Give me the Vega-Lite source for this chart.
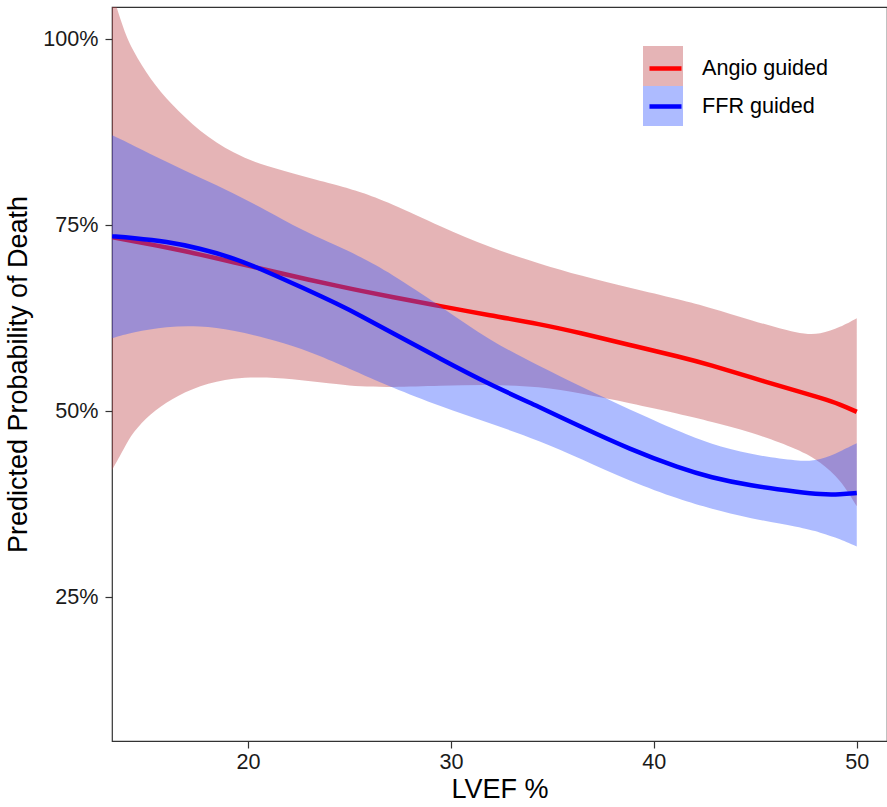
{
  "$schema": "https://vega.github.io/schema/vega-lite/v6.json",
  "width": 775,
  "height": 734,
  "autosize": {"type": "none"},
  "padding": {"left": 112, "top": 7, "right": 0, "bottom": 66},
  "background": "white",
  "config": {
    "font": "Liberation Sans",
    "view": {"stroke": "#333333", "strokeWidth": 1.2},
    "axis": {
      "grid": false,
      "domain": false,
      "tickColor": "#333333",
      "tickSize": 7,
      "tickWidth": 1.2,
      "labelFontSize": 21.6,
      "labelColor": "#1a1a1a",
      "titleFontSize": 27,
      "titleFontWeight": "normal",
      "titleColor": "#000000"
    }
  },
  "datasets": {
    "bands": [
      {"Group": "Angio guided", "x": 13.3, "lo": 42.1, "hi": 106.3},
      {"Group": "Angio guided", "x": 13.9, "lo": 45.0, "hi": 101.0},
      {"Group": "Angio guided", "x": 14.3, "lo": 47.1, "hi": 98.6},
      {"Group": "Angio guided", "x": 15.2, "lo": 49.7, "hi": 94.5},
      {"Group": "Angio guided", "x": 16.2, "lo": 51.6, "hi": 91.3},
      {"Group": "Angio guided", "x": 17.6, "lo": 53.5, "hi": 87.6},
      {"Group": "Angio guided", "x": 19.3, "lo": 54.5, "hi": 84.6},
      {"Group": "Angio guided", "x": 20.9, "lo": 54.6, "hi": 82.9},
      {"Group": "Angio guided", "x": 22.6, "lo": 54.2, "hi": 81.7},
      {"Group": "Angio guided", "x": 24.5, "lo": 53.6, "hi": 80.3},
      {"Group": "Angio guided", "x": 25.5, "lo": 53.3, "hi": 79.5},
      {"Group": "Angio guided", "x": 27.0, "lo": 53.2, "hi": 78.0},
      {"Group": "Angio guided", "x": 29.5, "lo": 53.4, "hi": 74.8},
      {"Group": "Angio guided", "x": 31.9, "lo": 53.6, "hi": 72.0},
      {"Group": "Angio guided", "x": 34.4, "lo": 53.3, "hi": 69.8},
      {"Group": "Angio guided", "x": 36.4, "lo": 52.4, "hi": 68.2},
      {"Group": "Angio guided", "x": 38.8, "lo": 51.1, "hi": 66.6},
      {"Group": "Angio guided", "x": 41.3, "lo": 49.6, "hi": 65.0},
      {"Group": "Angio guided", "x": 42.8, "lo": 48.6, "hi": 63.9},
      {"Group": "Angio guided", "x": 44.7, "lo": 47.3, "hi": 62.3},
      {"Group": "Angio guided", "x": 47.2, "lo": 44.8, "hi": 60.3},
      {"Group": "Angio guided", "x": 48.2, "lo": 43.2, "hi": 60.3},
      {"Group": "Angio guided", "x": 49.2, "lo": 40.8, "hi": 61.3},
      {"Group": "Angio guided", "x": 50.0, "lo": 37.2, "hi": 62.5},
      {"Group": "FFR guided", "x": 13.3, "lo": 59.8, "hi": 87.1},
      {"Group": "FFR guided", "x": 14.3, "lo": 60.6, "hi": 85.8},
      {"Group": "FFR guided", "x": 16.0, "lo": 61.4, "hi": 83.5},
      {"Group": "FFR guided", "x": 17.6, "lo": 61.5, "hi": 81.4},
      {"Group": "FFR guided", "x": 19.3, "lo": 60.9, "hi": 79.3},
      {"Group": "FFR guided", "x": 20.9, "lo": 59.8, "hi": 77.0},
      {"Group": "FFR guided", "x": 22.6, "lo": 58.5, "hi": 74.4},
      {"Group": "FFR guided", "x": 24.5, "lo": 56.3, "hi": 72.1},
      {"Group": "FFR guided", "x": 25.5, "lo": 55.1, "hi": 70.8},
      {"Group": "FFR guided", "x": 27.0, "lo": 53.3, "hi": 68.6},
      {"Group": "FFR guided", "x": 29.5, "lo": 50.6, "hi": 64.1},
      {"Group": "FFR guided", "x": 31.9, "lo": 48.4, "hi": 59.5},
      {"Group": "FFR guided", "x": 34.4, "lo": 46.0, "hi": 56.0},
      {"Group": "FFR guided", "x": 36.4, "lo": 43.6, "hi": 53.3},
      {"Group": "FFR guided", "x": 38.8, "lo": 40.6, "hi": 50.2},
      {"Group": "FFR guided", "x": 41.3, "lo": 38.1, "hi": 47.2},
      {"Group": "FFR guided", "x": 42.8, "lo": 36.9, "hi": 45.6},
      {"Group": "FFR guided", "x": 44.7, "lo": 35.6, "hi": 44.2},
      {"Group": "FFR guided", "x": 47.2, "lo": 34.4, "hi": 43.2},
      {"Group": "FFR guided", "x": 48.2, "lo": 33.7, "hi": 43.4},
      {"Group": "FFR guided", "x": 49.2, "lo": 32.8, "hi": 44.6},
      {"Group": "FFR guided", "x": 50.0, "lo": 31.8, "hi": 45.7}
    ],
    "fits": [
      {"Method": "Angio guided", "x": 13.3, "fit": 73.4},
      {"Method": "Angio guided", "x": 14.3, "fit": 72.9},
      {"Method": "Angio guided", "x": 16.2, "fit": 71.9},
      {"Method": "Angio guided", "x": 17.6, "fit": 71.1},
      {"Method": "Angio guided", "x": 19.3, "fit": 70.0},
      {"Method": "Angio guided", "x": 20.9, "fit": 69.0},
      {"Method": "Angio guided", "x": 22.6, "fit": 67.9},
      {"Method": "Angio guided", "x": 24.5, "fit": 66.8},
      {"Method": "Angio guided", "x": 25.5, "fit": 66.2},
      {"Method": "Angio guided", "x": 27.0, "fit": 65.4},
      {"Method": "Angio guided", "x": 29.5, "fit": 64.1},
      {"Method": "Angio guided", "x": 31.9, "fit": 62.9},
      {"Method": "Angio guided", "x": 34.4, "fit": 61.7},
      {"Method": "Angio guided", "x": 36.4, "fit": 60.5},
      {"Method": "Angio guided", "x": 38.8, "fit": 58.9},
      {"Method": "Angio guided", "x": 41.3, "fit": 57.3},
      {"Method": "Angio guided", "x": 42.8, "fit": 56.2},
      {"Method": "Angio guided", "x": 44.7, "fit": 54.6},
      {"Method": "Angio guided", "x": 47.2, "fit": 52.6},
      {"Method": "Angio guided", "x": 48.2, "fit": 51.8},
      {"Method": "Angio guided", "x": 49.2, "fit": 50.9},
      {"Method": "Angio guided", "x": 50.0, "fit": 49.9},
      {"Method": "FFR guided", "x": 13.3, "fit": 73.5},
      {"Method": "FFR guided", "x": 14.3, "fit": 73.3},
      {"Method": "FFR guided", "x": 16.0, "fit": 72.8},
      {"Method": "FFR guided", "x": 17.6, "fit": 71.9},
      {"Method": "FFR guided", "x": 19.3, "fit": 70.6},
      {"Method": "FFR guided", "x": 20.9, "fit": 68.8},
      {"Method": "FFR guided", "x": 22.6, "fit": 66.7},
      {"Method": "FFR guided", "x": 24.5, "fit": 64.3},
      {"Method": "FFR guided", "x": 25.5, "fit": 62.9},
      {"Method": "FFR guided", "x": 27.0, "fit": 60.7},
      {"Method": "FFR guided", "x": 29.5, "fit": 57.0},
      {"Method": "FFR guided", "x": 31.9, "fit": 53.6},
      {"Method": "FFR guided", "x": 34.4, "fit": 50.5},
      {"Method": "FFR guided", "x": 36.4, "fit": 47.9},
      {"Method": "FFR guided", "x": 38.8, "fit": 44.9},
      {"Method": "FFR guided", "x": 41.3, "fit": 42.3},
      {"Method": "FFR guided", "x": 42.8, "fit": 41.1},
      {"Method": "FFR guided", "x": 44.7, "fit": 40.0},
      {"Method": "FFR guided", "x": 47.2, "fit": 39.1},
      {"Method": "FFR guided", "x": 48.2, "fit": 38.8},
      {"Method": "FFR guided", "x": 49.2, "fit": 38.8},
      {"Method": "FFR guided", "x": 50.0, "fit": 39.0}
    ]
  },
  "encoding": {
    "x": {
      "field": "x",
      "type": "quantitative",
      "scale": {"domain": [13.297, 51.49], "nice": false, "zero": false},
      "axis": {"values": [20, 30, 40, 50], "title": "LVEF %", "labelPadding": 3, "titlePadding": 4}
    }
  },
  "layer": [
    {
      "data": {"name": "bands"},
      "transform": [{"filter": "datum.Group == 'Angio guided'"}],
      "mark": {"type": "area", "fillOpacity": 0.4, "interpolate": "basis", "clip": true},
      "encoding": {
        "y": {
          "field": "lo",
          "type": "quantitative",
          "scale": {"domain": [5.65, 104.34], "nice": false, "zero": false},
          "axis": {"values": [25, 50, 75, 100], "labelExpr": "datum.value + '%'", "title": "Predicted Probability of Death", "labelPadding": 7, "titlePadding": 10}
        },
        "y2": {"field": "hi"},
        "fill": {
          "field": "Group",
          "type": "nominal",
          "scale": {"range": ["#be4449", "#3355ff"]},
          "legend": {
            "title": null, "orient": "none", "legendX": 531, "legendY": 39,
            "symbolType": "square", "symbolSize": 1600, "symbolOpacity": 0.4,
            "symbolStrokeWidth": 0, "rowPadding": 0, "padding": 0,
            "labelExpr": "''", "labelFontSize": 1, "labelOpacity": 0
          }
        }
      }
    },
    {
      "data": {"name": "fits"},
      "transform": [{"filter": "datum.Method == 'Angio guided'"}],
      "mark": {"type": "line", "strokeWidth": 4.5, "interpolate": "basis", "clip": true},
      "encoding": {
        "y": {
          "field": "fit",
          "type": "quantitative",
          "scale": {"domain": [5.65, 104.34], "nice": false, "zero": false},
          "axis": {"values": [25, 50, 75, 100], "labelExpr": "datum.value + '%'", "title": "Predicted Probability of Death", "labelPadding": 7, "titlePadding": 10}
        },
        "stroke": {
          "field": "Method",
          "type": "nominal",
          "scale": {"range": ["#ff0000", "#0000ff"]},
          "legend": {
            "title": null, "orient": "none", "legendX": 535, "legendY": 43,
            "symbolType": "stroke", "symbolSize": 1024, "symbolStrokeWidth": 4.5,
            "rowPadding": 8, "padding": 0, "labelFontSize": 21.6,
            "labelColor": "#000000", "labelOffset": 18
          }
        }
      }
    },
    {
      "data": {"name": "bands"},
      "transform": [{"filter": "datum.Group == 'FFR guided'"}],
      "mark": {"type": "area", "fillOpacity": 0.4, "interpolate": "basis", "clip": true},
      "encoding": {
        "y": {
          "field": "lo",
          "type": "quantitative",
          "scale": {"domain": [5.65, 104.34], "nice": false, "zero": false},
          "axis": {"values": [25, 50, 75, 100], "labelExpr": "datum.value + '%'", "title": "Predicted Probability of Death", "labelPadding": 7, "titlePadding": 10}
        },
        "y2": {"field": "hi"},
        "fill": {"field": "Group", "type": "nominal"}
      }
    },
    {
      "data": {"name": "fits"},
      "transform": [{"filter": "datum.Method == 'FFR guided'"}],
      "mark": {"type": "line", "strokeWidth": 4.5, "interpolate": "basis", "clip": true},
      "encoding": {
        "y": {
          "field": "fit",
          "type": "quantitative",
          "scale": {"domain": [5.65, 104.34], "nice": false, "zero": false},
          "axis": {"values": [25, 50, 75, 100], "labelExpr": "datum.value + '%'", "title": "Predicted Probability of Death", "labelPadding": 7, "titlePadding": 10}
        },
        "stroke": {"field": "Method", "type": "nominal"}
      }
    }
  ]
}
